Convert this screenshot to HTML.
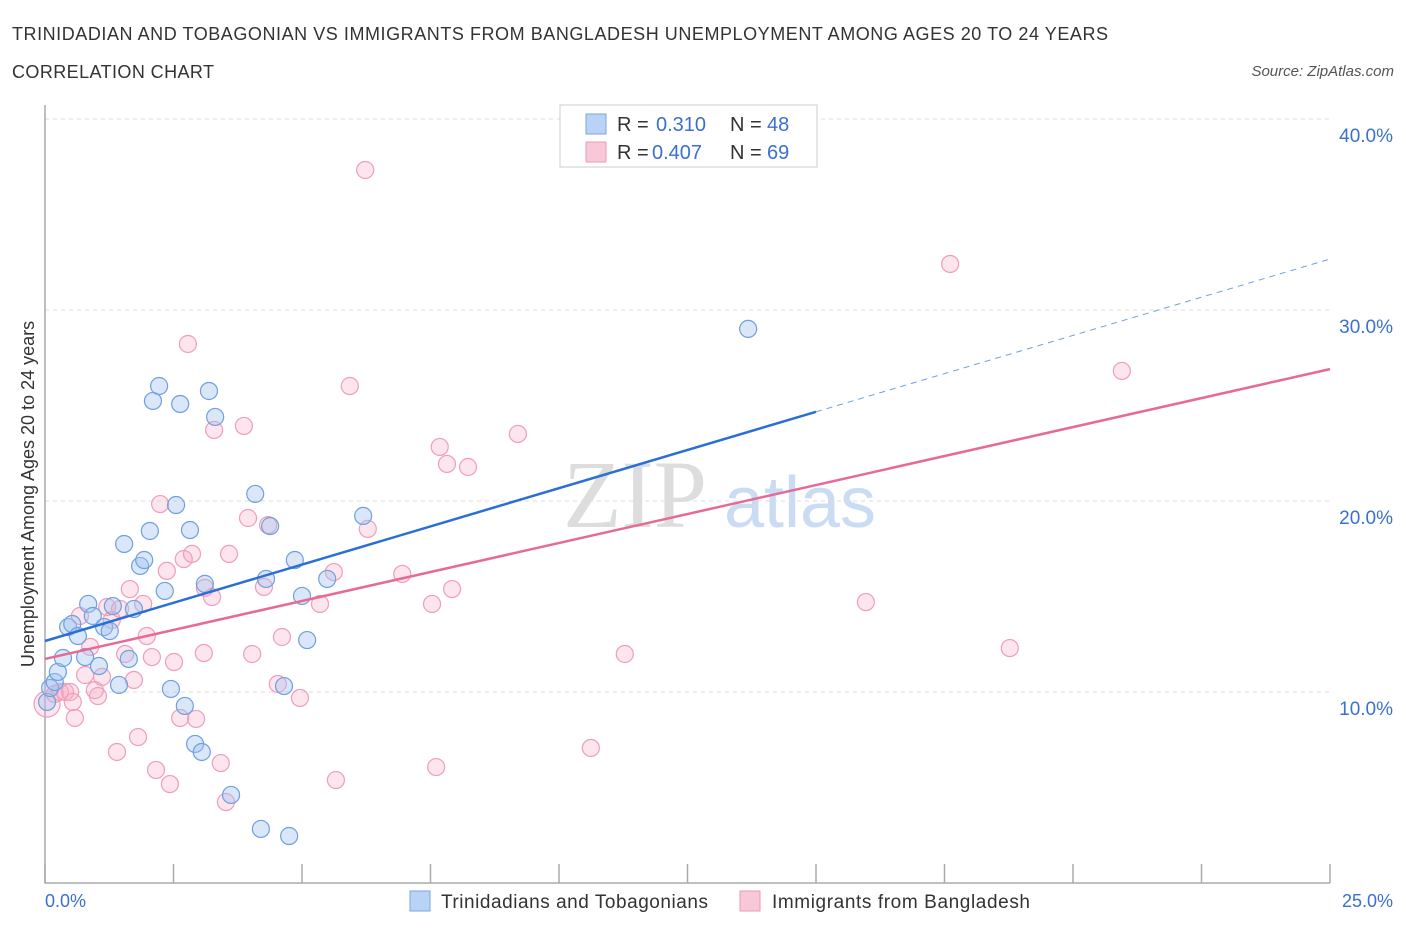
<!DOCTYPE html>
<html><head><meta charset="utf-8"><style>
body{margin:0;background:#fff;font-family:"Liberation Sans",sans-serif;}
svg{display:block}
</style></head><body>
<svg width="1406" height="930" id="chart">
<text x="12" y="40" font-size="18" fill="#333" textLength="1096" lengthAdjust="spacing">TRINIDADIAN AND TOBAGONIAN VS IMMIGRANTS FROM BANGLADESH UNEMPLOYMENT AMONG AGES 20 TO 24 YEARS</text>
<text x="12" y="78" font-size="18" fill="#333" textLength="202" lengthAdjust="spacing">CORRELATION CHART</text>
<text x="1394" y="76" font-size="15" fill="#555" font-style="italic" text-anchor="end">Source: ZipAtlas.com</text>
<g><text x="635" y="527" font-size="96" font-family="Liberation Serif,serif" fill="#ddd" text-anchor="middle">ZIP</text><text x="800" y="527" font-size="72" fill="#c9dcf3" text-anchor="middle">atlas</text></g>
<g id="grid"></g><g id="pts"></g><g id="lines"></g>
<text transform="translate(34,494) rotate(-90)" font-size="18" fill="#333" text-anchor="middle">Unemployment Among Ages 20 to 24 years</text>
<text x="45" y="907" font-size="18" fill="#3a70d0">0.0%</text>
<text x="1393" y="907" font-size="18" fill="#3a70d0" text-anchor="end">25.0%</text>
<g font-size="20">
<rect x="560" y="105" width="257" height="62" fill="#fff" stroke="#ccc"/>
<rect x="586" y="114" width="20" height="20" fill="#b8d3f5" stroke="#7aa6e0"/>
<text x="617" y="131" fill="#333">R =</text><text x="656" y="131" fill="#3a70d0">0.310</text>
<text x="730" y="131" fill="#333">N =</text><text x="767" y="131" fill="#3a70d0">48</text>
<rect x="586" y="142" width="20" height="20" fill="#f8c8d8" stroke="#ec9ab6"/>
<text x="617" y="159" fill="#333">R =</text><text x="652" y="159" fill="#3a70d0">0.407</text>
<text x="730" y="159" fill="#333">N =</text><text x="767" y="159" fill="#3a70d0">69</text>
</g>
<g>
<rect x="410" y="891" width="20" height="20" fill="#b8d3f5" stroke="#7aa6e0"/>
<text x="441" y="908" font-size="19" fill="#333" textLength="267" lengthAdjust="spacing">Trinidadians and Tobagonians</text>
<rect x="740" y="891" width="20" height="20" fill="#f8c8d8" stroke="#ec9ab6"/>
<text x="772" y="908" font-size="19" fill="#333" textLength="258" lengthAdjust="spacing">Immigrants from Bangladesh</text>
</g>
</svg>
<script>
const blueX=[0.04,0.10,0.19,0.25,0.35,0.45,0.53,0.64,0.78,0.84,0.93,1.05,1.15,1.26,1.32,1.44,1.54,1.63,1.73,1.85,1.93,2.04,2.10,2.22,2.33,2.45,2.63,2.72,2.82,2.92,3.05,3.11,3.19,3.31,3.62,4.09,4.20,4.30,4.38,4.65,4.75,4.86,5.00,5.10,5.49,6.19,13.68,2.55];
const blueY=[9.48,10.21,10.52,11.05,11.78,13.40,13.56,12.93,11.83,14.61,13.98,11.36,13.40,13.19,14.50,10.37,17.75,11.73,14.35,16.60,16.91,18.43,25.24,26.02,15.29,10.16,25.08,9.27,18.48,7.28,6.86,15.66,25.76,24.40,4.61,20.37,2.83,15.92,18.69,10.31,2.46,16.91,15.03,12.72,15.92,19.22,29.01,19.79];
const pinkX=[0.04,0.19,0.29,0.39,0.49,0.58,0.68,0.78,0.88,0.97,1.03,1.11,1.21,1.30,1.40,1.46,1.56,1.65,1.73,1.81,1.91,1.98,2.08,2.16,2.24,2.37,2.43,2.51,2.63,2.70,2.78,2.86,2.94,3.09,3.11,3.25,3.29,3.42,3.52,3.58,3.87,3.95,4.03,4.26,4.34,4.61,4.53,4.96,5.35,5.62,5.66,5.93,6.23,6.28,6.95,7.53,7.61,7.68,7.82,7.92,8.23,9.20,10.62,11.28,15.97,17.61,18.77,20.95,0.54];
const pinkY=[9.37,9.90,10.00,10.00,10.00,8.64,13.98,10.89,12.36,10.10,9.79,10.79,14.45,13.77,6.86,14.35,11.99,15.39,10.63,7.64,14.61,12.93,11.83,5.92,19.84,16.34,5.18,11.57,8.64,16.96,28.22,17.23,8.59,12.04,15.45,14.97,23.72,6.28,4.24,17.23,23.93,19.11,11.99,15.50,18.74,12.88,10.42,9.69,14.61,16.28,5.39,26.02,37.33,18.54,16.18,14.61,6.07,22.83,21.94,15.39,21.78,23.51,7.07,11.99,14.71,32.41,12.30,26.81,9.48];
const yTicks=[10,20,30,40];
const yTickLabels=["10.0%","20.0%","30.0%","40.0%"];
const xTicks=[0,2.5,5,7.5,10,12.5,15,17.5,20,22.5,25];
const blueFit=[12.67,0.8];   // intercept, slope
const pinkFit=[11.73,0.607];
const NS='http://www.w3.org/2000/svg';
const X0=45,X1=1330,Y0=883,PX=19.1;
const sx=v=>X0+(v/25)*(X1-X0), sy=v=>Y0-v*PX;
function mk(t,a,p){const e=document.createElementNS(NS,t);for(const k in a)e.setAttribute(k,a[k]);p.appendChild(e);return e;}
const grid=document.getElementById('grid');
yTicks.forEach((t,i)=>{
 const l=mk('line',{x1:X0,x2:X1,y1:sy(t),y2:sy(t),stroke:'#ddd','stroke-dasharray':'4,4'},grid);
 
 
 const tx=mk('text',{x:1393,y:sy(t)+23,'font-size':19,fill:'#3a70d0','text-anchor':'end'},grid);
 tx.textContent=yTickLabels[i];
 
 
});
const ax=mk('path',{d:`M${X0},105V${Y0}H${X1}`,fill:'none',stroke:'#aaa','stroke-width':1.5},grid);


xTicks.forEach(t=>{
 const l=mk('line',{x1:sx(t),x2:sx(t),y1:Y0-19,y2:Y0,stroke:'#aaa','stroke-width':1.5},grid);
 
 
});
const pts=document.getElementById('pts');
pinkX.forEach((x,i)=>{
 const c=mk('circle',{cx:sx(x),cy:sy(pinkY[i]),r:i==0?13:8.5,fill:'rgba(244,170,196,0.3)',stroke:'#ef9dbb','stroke-width':1.2},pts);
 
 
});
blueX.forEach((x,i)=>{
 const c=mk('circle',{cx:sx(x),cy:sy(blueY[i]),r:8.5,fill:'rgba(160,196,240,0.4)',stroke:'#6f9fe0','stroke-width':1.2},pts);
 
 
});
const lg=document.getElementById('lines');
const f=(p,x)=>p[0]+p[1]*x;
let l=mk('line',{x1:sx(0),y1:sy(f(blueFit,0)),x2:sx(15),y2:sy(f(blueFit,15)),stroke:'#2a6fd6','stroke-width':2.5},lg);


l=mk('line',{x1:sx(15),y1:sy(f(blueFit,15)),x2:sx(25),y2:sy(f(blueFit,25)),stroke:'#6f9fe0','stroke-width':1,'stroke-dasharray':'6,5'},lg);


l=mk('line',{x1:sx(0),y1:sy(f(pinkFit,0)),x2:sx(25),y2:sy(f(pinkFit,25)),stroke:'#e66a95','stroke-width':2.5},lg);


</script>
</body></html>
